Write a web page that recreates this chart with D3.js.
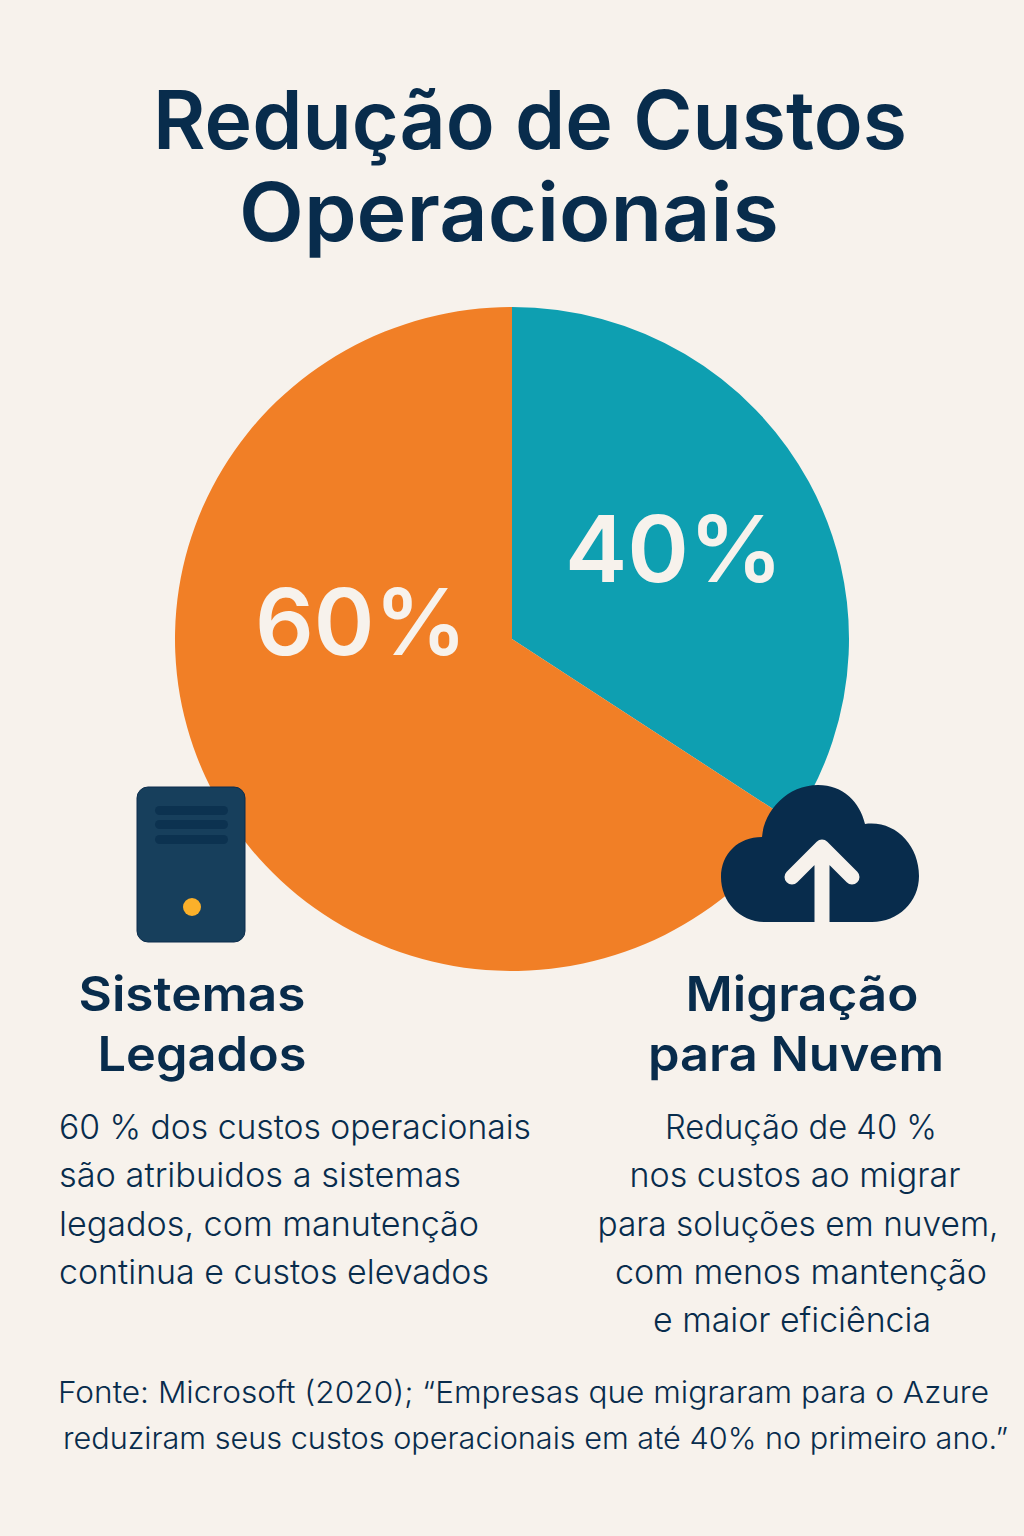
<!DOCTYPE html>
<html>
<head>
<meta charset="UTF-8">
<title>Redução de Custos Operacionais</title>
<script src="https://d3js.org/d3.v7.min.js"></script>
<style>
  html, body { margin: 0; padding: 0; background: #f7f2ec; }
  svg { display: block; }
  text { font-family: Inter, "Noto Sans", sans-serif; fill: #082c4c; }
</style>
</head>
<body>
<div id="chart"></div>
<script>
// categories and slice sizes as drawn in the picture (the teal slice spans about 123 degrees)
var categories = ["Migração para Nuvem", "Sistemas Legados"];
var sliceValues = [34.3, 65.7];
// printed labels
var sliceLabels = ["40%", "60%"];
var sliceColors = ["#0e9fb1", "#f17f26"];

var titleLines = ["Redução de Custos", "Operacionais"];
var leftHead = ["Sistemas", "Legados"];
var rightHead = ["Migração", "para Nuvem"];
var leftBody = ["60 % dos custos operacionais", "são atribuidos a sistemas", "legados, com manutenção", "continua e custos elevados"];
var rightBody = ["Redução de 40 %", "nos custos ao migrar", "para soluções em nuvem,", "com menos mantenção", "e maior eficiência"];
var sourceLines = ["Fonte: Microsoft (2020); “Empresas que migraram para o Azure", "reduziram seus custos operacionais em até 40% no primeiro ano.”"];

var width = 1024, height = 1536;
var navy = "#082c4c", cream = "#f7f2ec";

var svg = d3.select("#chart").append("svg")
    .attr("width", width)
    .attr("height", height);

svg.append("rect").attr("width", width).attr("height", height).attr("fill", cream);

// helper for the text blocks, w = target width of each line
function lines(data, x, y0, step, size, weight, anchor, w) {
    svg.append("g").selectAll("text")
        .data(data)
        .enter().append("text")
        .attr("x", function(d, i) { return x[i]; })
        .attr("y", function(d, i) { return y0 + i * step; })
        .attr("font-size", size)
        .attr("font-weight", weight)
        .attr("text-anchor", anchor)
        .attr("textLength", function(d, i) { return w[i]; })
        .attr("lengthAdjust", "spacingAndGlyphs")
        .text(function(d) { return d; });
}

// title
lines(titleLines, [530, 509], 149, 92, 81, 600, "middle", [754, 540]);

// pie, very slightly flattened like the reference (674 wide, 664 high)
var pie = d3.pie().sort(null).value(function(d) { return d; });
var arc = d3.arc().innerRadius(0).outerRadius(337);
var pieG = svg.append("g").attr("transform", "translate(512,639) scale(1,0.985)");
pieG.selectAll("path")
    .data(pie(sliceValues))
    .enter().append("path")
    .attr("d", arc)
    .attr("fill", function(d, i) { return sliceColors[i]; });

// slice labels
var labelPos = [[674, 582], [361, 655]];
var labelWidth = [218, 212];
svg.append("g").selectAll("text")
    .data(sliceLabels)
    .enter().append("text")
    .attr("x", function(d, i) { return labelPos[i][0]; })
    .attr("y", function(d, i) { return labelPos[i][1]; })
    .attr("text-anchor", "middle")
    .attr("font-size", 92)
    .attr("font-weight", 600)
    .attr("textLength", function(d, i) { return labelWidth[i]; })
    .attr("lengthAdjust", "spacingAndGlyphs")
    .style("fill", cream)
    .text(function(d) { return d; });

// server icon
var server = svg.append("g").attr("transform", "translate(137,787)");
server.append("rect").attr("width", 108).attr("height", 155).attr("rx", 11).attr("fill", "#173f5c").attr("stroke", "#0c2d4d").attr("stroke-width", 1);
server.selectAll("rect.bar")
    .data([19, 33, 48])
    .enter().append("rect")
    .attr("class", "bar")
    .attr("x", 18)
    .attr("y", function(d) { return d; })
    .attr("width", 73)
    .attr("height", 9)
    .attr("rx", 4.5)
    .attr("fill", "#0c3250");
server.append("circle").attr("cx", 55).attr("cy", 120).attr("r", 9).attr("fill", "#fbb02a");

// cloud icon
var cloud = svg.append("g").attr("transform", "translate(700,770)");
cloud.append("path")
    .attr("d", "M65 152 C40 152 21 132 21 107 C21 84 38 67 62 67 C64 40 88 15 118 15 C143 15 160 32 165 54 C195 50 219 75 219 106 C219 132 198 152 172 152 Z")
    .attr("fill", navy);
cloud.append("path")
    .attr("d", "M122 152 L122 80 M92 107 L122 77 L152 107")
    .attr("fill", "none")
    .attr("stroke", cream)
    .attr("stroke-width", 15)
    .attr("stroke-linecap", "round")
    .attr("stroke-linejoin", "round");

// column heads
lines(leftHead, [192, 202], 1011, 60, 48, 600, "middle", [227, 209]);
lines(rightHead, [802, 796], 1011, 60, 48, 600, "middle", [233, 296]);

// column text
lines(leftBody, [59, 59, 59, 59], 1139, 48.3, 33.5, 300, "start", [472, 402, 420, 430]);
lines(rightBody, [801, 795, 798, 801, 792], 1139, 48.3, 33.5, 300, "middle", [272, 331, 401, 372, 278]);

// source
lines(sourceLines, [58, 63], 1403, 46, 30, 300, "start", [931, 945]);
</script>
</body>
</html>
